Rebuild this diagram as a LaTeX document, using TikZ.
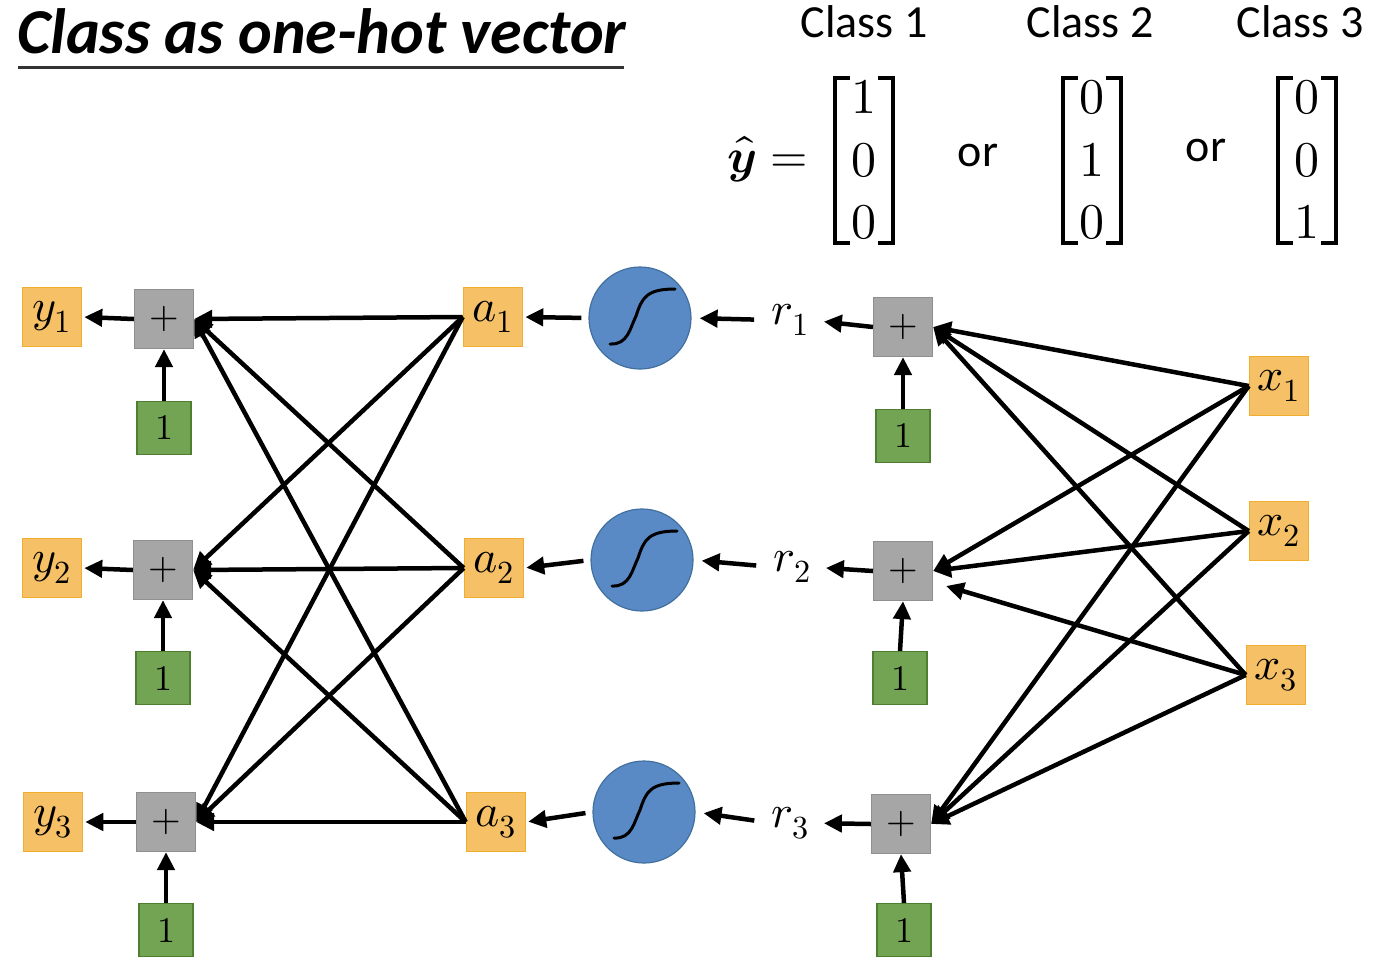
\documentclass[tikz,border=0pt]{standalone}
\usepackage{fontspec}
\usepackage{unicode-math}
\setmathfont{Latin Modern Math}
\newfontfamily\calfont{Carlito}
\usetikzlibrary{arrows.meta}
\definecolor{orF}{HTML}{F5C066}
\definecolor{orB}{HTML}{EFAE2E}
\definecolor{grF}{HTML}{A6A6A6}
\definecolor{grB}{HTML}{8F8F8F}
\definecolor{gnF}{HTML}{72A453}
\definecolor{gnB}{HTML}{4E7F30}
\definecolor{blF}{HTML}{5A8AC6}
\definecolor{blB}{HTML}{41709E}
\tikzset{
  varbox/.style={draw=orB, fill=orF, line width=1.5pt, minimum size=59pt, inner sep=0pt, font=\fontsize{46}{46}\selectfont},
  plusbox/.style={draw=grB, fill=grF, line width=1.2pt, minimum size=59pt, inner sep=0pt, font=\fontsize{38}{38}\selectfont},
  onebox/.style={draw=gnB, fill=gnF, line width=1.2pt, minimum width=54pt, minimum height=53pt, inner sep=0pt, font=\fontsize{36}{36}\selectfont},
  sigc/.style={circle, draw=blB, fill=blF, line width=1.2pt, minimum size=102pt, inner sep=0pt},
  rlab/.style={inner sep=0pt, font=\fontsize{46}{46}\selectfont},
  arr/.style={-{Triangle[length=18pt,width=17pt]}, line width=4.5pt},
  cls/.style={inner sep=0pt, font=\calfont\fontsize{46}{46}\selectfont},
  digit/.style={inner sep=0pt, font=\fontsize{50}{50}\selectfont},
  brk/.style={line width=3.8pt}
}
\begin{document}
\begin{tikzpicture}[x=1pt,y=-1pt]
\useasboundingbox (0,0) rectangle (1375,975);
% title
\node[anchor=base west, inner sep=0pt, font=\calfont\bfseries\itshape\fontsize{64}{64}\selectfont] (title) at (17,53) {Class as one-hot vector};
\draw[line width=3pt, color=black!80] (18,67) -- (624,67);
% class labels
\node[cls] (c1) at (864,22) {Class 1};
\node[cls] (c2) at (1090,22) {Class 2};
\node[cls] (c3) at (1300,22) {Class 3};
\node[anchor=base east, inner sep=0pt, font=\fontsize{48}{48}\selectfont] (yhat) at (808,172) {$\widehat{\symbfit{y}} =$};
\node[cls] (or1) at (978,155) {or};
\node[cls] (or2) at (1206,150) {or};
% matrices
\foreach \cx/\a/\b/\c/\n in {864/1/0/0/m1, 1092/0/1/0/m2, 1307/0/0/1/m3}{
  \node[digit] (\n a) at (\cx,97) {$\a$};
  \node[digit] (\n b) at (\cx,160) {$\b$};
  \node[digit] (\n c) at (\cx,222) {$\c$};
  \draw[brk] (\cx-14,78) -- (\cx-29,78) -- (\cx-29,243) -- (\cx-14,243);
  \draw[brk] (\cx+14,78) -- (\cx+29,78) -- (\cx+29,243) -- (\cx+14,243);
}
% left column
\node[varbox] (y1) at (52,317) {$y_1$};
\node[varbox] (y2) at (52,568) {$y_2$};
\node[varbox] (y3) at (53,822) {$y_3$};
\node[plusbox] (p1) at (164,319) {$+$};
\node[plusbox] (p2) at (163,570) {$+$};
\node[plusbox] (p3) at (166,822) {$+$};
\node[onebox] (g1) at (164,428) {$1$};
\node[onebox] (g2) at (163,678) {$1$};
\node[onebox] (g3) at (166,930) {$1$};
\node[varbox] (a1) at (493,317) {$a_1$};
\node[varbox] (a2) at (494,568) {$a_2$};
\node[varbox] (a3) at (496,822) {$a_3$};
\node[sigc] (s1) at (640,318) {};
\node[sigc] (s2) at (642,560) {};
\node[sigc] (s3) at (644,812) {};
\node[rlab] (r1) at (790,320) {$r_1$};
\node[rlab] (r2) at (792,567) {$r_2$};
\node[rlab] (r3) at (790,823) {$r_3$};
\node[plusbox] (q1) at (903,327) {$+$};
\node[plusbox] (q2) at (903,571) {$+$};
\node[plusbox] (q3) at (901,824) {$+$};
\node[onebox] (h1) at (903,436) {$1$};
\node[onebox] (h2) at (900,678) {$1$};
\node[onebox] (h3) at (904,930) {$1$};
\node[varbox] (x1) at (1279,386) {$x_1$};
\node[varbox] (x2) at (1279,531) {$x_2$};
\node[varbox] (x3) at (1276,675) {$x_3$};
\coordinate (q2in) at (946,586);
% sigmoid curves
\foreach \s in {s1,s2,s3}{
  \begin{scope}[shift={(\s)}]
    \draw[line width=3pt, line cap=round] (-30,26) .. controls (-12,27) and (-10,10) .. (-4,-2) .. controls (2,-20) and (6,-29) .. (35,-29);
  \end{scope}
}
% arrows
\foreach \i in {1,2,3}{
  \draw[arr, shorten >=2pt] (p\i.west) -- (y\i.east);
  \draw[arr] (g\i.north) -- (p\i.south);
  \draw[arr] (h\i.north) -- (q\i.south);
  \draw[arr, shorten <=7pt, shorten >=2pt] (s\i.west) -- (a\i.east);
  \draw[arr, shorten <=17pt, shorten >=8pt] (r\i.west) -- (s\i.east);
  \draw[arr, shorten >=15pt] (q\i.west) -- (r\i.east);
}
\foreach \i in {1,2,3}{
  \foreach \j in {1,2,3}{
    \draw[arr] (a\i.west) -- (p\j.east);
  }
}
\draw[arr] (x1.west) -- (q1.east);
\draw[arr] (x2.west) -- (q1.east);
\draw[arr] (x3.west) -- (q1.east);
\draw[arr] (x1.west) -- (q2.east);
\draw[arr] (x2.west) -- (q2.east);
\draw[arr] (x3.west) -- (q2in);
\draw[arr] (x1.west) -- (q3.east);
\draw[arr] (x2.west) -- (q3.east);
\draw[arr] (x3.west) -- (q3.east);
\end{tikzpicture}
\end{document}
